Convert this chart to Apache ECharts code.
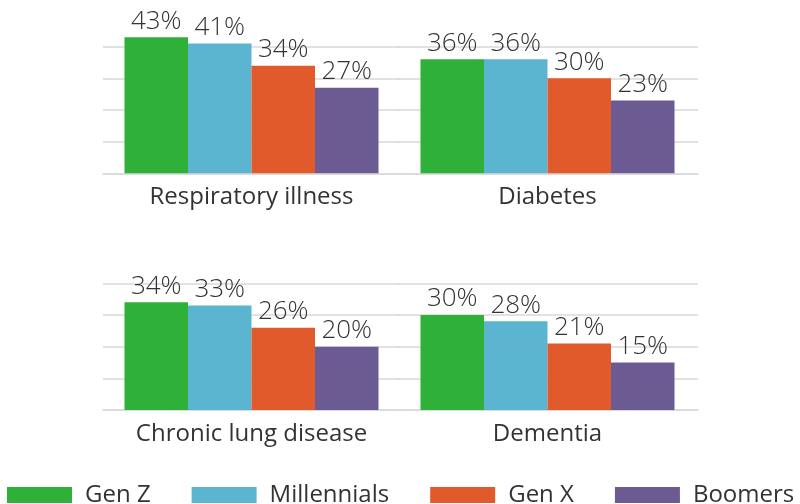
<!DOCTYPE html>
<html>
<head>
<meta charset="utf-8">
<script src="https://cdn.jsdelivr.net/npm/echarts@6/dist/echarts.min.js"></script>
<style>
  html, body { margin: 0; padding: 0; background: #fff; }
  #chart { width: 800px; height: 504px; }
</style>
</head>
<body>
<div id="chart"></div>
<script>
const categories = ['Respiratory illness', 'Diabetes', 'Chronic lung disease', 'Dementia'];
const generations = ['Gen Z', 'Millennials', 'Gen X', 'Boomers'];
const genZ = [43, 36, 34, 30];
const millennials = [41, 36, 33, 28];
const genX = [34, 30, 26, 21];
const boomers = [27, 23, 20, 15];
const colors = ['#2fb038', '#5bb5d0', '#e05a2b', '#6c5b93'];

const values = [genZ, millennials, genX, boomers];

// one small grid per illness, 2x2
const grids = [
  { left: 103, top: 30.8, width: 297, height: 142.5 },
  { left: 397, top: 30.8, width: 301, height: 142.5 },
  { left: 103, top: 267.5, width: 297, height: 142.5 },
  { left: 397, top: 267.5, width: 301, height: 142.5 }
];

const textColor = '#333';
const lineColor = '#d9d9d9';
const font = 'Open Sans';

const chart = echarts.init(document.getElementById('chart'));

const xAxis = categories.map((c, i) => ({
  type: 'category',
  gridIndex: i,
  data: [c],
  axisLine: { lineStyle: { color: lineColor, width: 1.5 } },
  axisTick: { show: false },
  axisLabel: { fontSize: 24, color: textColor, fontFamily: font, margin: 12 }
}));

const yAxis = categories.map((c, i) => ({
  type: 'value',
  gridIndex: i,
  min: 0,
  max: 45,
  interval: 10,
  axisLabel: { show: false },
  axisLine: { show: false },
  axisTick: { show: false },
  splitLine: { showMaxLine: false, lineStyle: { color: lineColor, width: 1.5 } }
}));

const series = [];
categories.forEach((c, i) => {
  generations.forEach((g, j) => {
    series.push({
      name: g,
      type: 'bar',
      xAxisIndex: i,
      yAxisIndex: i,
      data: [values[j][i]],
      barWidth: 63.5,
      barGap: '0%',
      itemStyle: { color: colors[j] },
      label: {
        show: true,
        position: 'top',
        distance: 3,
        formatter: '{c}%',
        fontSize: 26,
        fontWeight: 300,
        fontFamily: font,
        color: textColor
      }
    });
  });
});

chart.setOption({
  animation: false,
  color: colors,
  grid: grids,
  xAxis: xAxis,
  yAxis: yAxis,
  legend: {
    data: generations,
    left: 2,
    top: 478,
    itemWidth: 65,
    itemHeight: 16,
    itemGap: 41,
    icon: 'rect',
    textStyle: { fontSize: 24, color: textColor, fontFamily: font, padding: [0, 0, 0, 8] }
  },
  series: series
});
</script>
</body>
</html>
